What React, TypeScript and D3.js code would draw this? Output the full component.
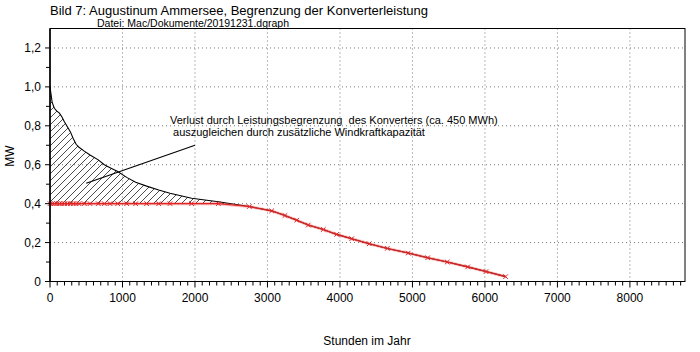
import React from "react";
import * as d3 from "d3";

const hours = [0, 30, 60, 95, 130, 165, 200, 240, 280, 320, 360, 400, 473, 552, 666, 749, 828, 934, 1058, 1182, 1333, 1500, 1655, 1954, 2322, 2749, 3058, 3241, 3403, 3563, 3770, 3955, 4162, 4404, 4653, 4942, 5210, 5480, 5761, 6014, 6286];
const demandMW = [1.0, 0.92, 0.89, 0.875, 0.865, 0.845, 0.82, 0.795, 0.77, 0.735, 0.705, 0.69, 0.67, 0.65, 0.625, 0.6, 0.585, 0.565, 0.535, 0.51, 0.49, 0.47, 0.453, 0.428, 0.41, 0.385, 0.363, 0.339, 0.315, 0.29, 0.267, 0.242, 0.22, 0.194, 0.17, 0.146, 0.122, 0.1, 0.075, 0.051, 0.025];
const limitedMW = [0.4, 0.4, 0.4, 0.4, 0.4, 0.4, 0.4, 0.4, 0.4, 0.4, 0.4, 0.4, 0.4, 0.4, 0.4, 0.4, 0.4, 0.4, 0.4, 0.4, 0.4, 0.4, 0.4, 0.4, 0.4, 0.385, 0.363, 0.339, 0.315, 0.29, 0.267, 0.242, 0.22, 0.194, 0.17, 0.146, 0.122, 0.1, 0.075, 0.051, 0.025];

const xMajorTicks = [0, 1000, 2000, 3000, 4000, 5000, 6000, 7000, 8000];
const yMajorTicks = [0, 0.2, 0.4, 0.6, 0.8, 1.0, 1.2];

const title = "Bild 7: Augustinum Ammersee, Begrenzung der Konverterleistung";
const subtitle = "Datei: Mac/Dokumente/20191231.dgraph";
const annotationLines = [
  "Verlust durch Leistungsbegrenzung  des Konverters (ca. 450 MWh)",
  " auszugleichen durch zusätzliche Windkraftkapazität",
];
const annotationPointer = [
  [500, 0.505],
  [2000, 0.7],
];
const annotationTextAnchor = [1655, 0.81];

const W = 700;
const H = 352;
const M = { left: 50, right: 15, top: 28.5, bottom: 70.5 };

export default function App() {
  const x = d3.scaleLinear().domain([0, 8760]).range([M.left, W - M.right]);
  const y = d3.scaleLinear().domain([0, 1.3]).range([H - M.bottom, M.top]);

  const pts = hours.map((h, i) => ({ h, d: demandMW[i], l: limitedMW[i] }));
  const lineD = d3.line<any>().x((p) => x(p.h)).y((p) => y(p.d))(pts) || "";
  const lineL = d3.line<any>().x((p) => x(p.h)).y((p) => y(p.l))(pts) || "";
  const areaD =
    d3
      .area<any>()
      .x((p) => x(p.h))
      .y0((p) => y(p.l))
      .y1((p) => y(p.d))(pts) || "";

  const xMinor = d3.range(0, 8701, 100);
  const yMinor = d3.range(0, 13).map((k) => k / 10);
  const font = "Liberation Sans, Arial, Helvetica, sans-serif";
  const x0 = M.left;
  const x1 = W - M.right;
  const yB = H - M.bottom;
  const yT = M.top;

  return (
    <svg
      width={W}
      height={H}
      style={{ position: "absolute", left: 0, top: 0, background: "#fff" }}
      fontFamily={font}
    >
      <defs>
        <pattern id="hatch" patternUnits="userSpaceOnUse" width={7} height={7}>
          <path d="M0,7 L7,0 M-1,1 L1,-1 M6,8 L8,6" stroke="#000" strokeWidth={0.7} />
        </pattern>
      </defs>
      <rect x={0} y={0} width={W} height={H} fill="#fff" />
      <text x={50} y={15} fontSize={13} fill="#000">{title}</text>
      <text x={97} y={26.5} fontSize={10.5} fill="#000">{subtitle}</text>

      {/* grid */}
      {xMajorTicks.filter((t) => t > 0).map((t) => (
        <line key={"gx" + t} x1={x(t)} x2={x(t)} y1={yT} y2={yB} stroke="#777" strokeWidth={1} strokeDasharray="1,3" />
      ))}
      {yMajorTicks.filter((t) => t > 0).map((t) => (
        <line key={"gy" + t} x1={x0} x2={x1} y1={y(t)} y2={y(t)} stroke="#777" strokeWidth={1} strokeDasharray="1,3" />
      ))}

      {/* hatched area */}
      <path d={areaD} fill="url(#hatch)" stroke="none" />
      <path d={lineD} fill="none" stroke="#000" strokeWidth={1.1} />
      <path d={lineL} fill="none" stroke="rgba(240,60,60,0.35)" strokeWidth={3} />
      <path d={lineL} fill="none" stroke="#e02424" strokeWidth={1.1} />
      {pts.map((p, i) => {
        const cx = x(p.h);
        const cy = y(p.l);
        const s = 2.3;
        return (
          <path
            key={"m" + i}
            d={`M${cx - s},${cy - s}L${cx + s},${cy + s}M${cx - s},${cy + s}L${cx + s},${cy - s}`}
            stroke="#e02424"
            strokeWidth={1}
          />
        );
      })}

      {/* frame */}
      <rect x={x0} y={yT} width={x1 - x0} height={yB - yT} fill="none" stroke="#000" strokeWidth={1} />
      <line x1={x0} x2={x0} y1={yT} y2={yB + 0.5} stroke="#000" strokeWidth={1.5} />

      {/* x ticks */}
      {xMinor.map((t) => (
        <line key={"xt" + t} x1={x(t)} x2={x(t)} y1={yB} y2={yB + (t % 1000 === 0 ? 6 : 4)} stroke="#000" strokeWidth={1} />
      ))}
      {xMajorTicks.map((t) => (
        <text key={"xl" + t} x={x(t)} y={302} fontSize={12} textAnchor="middle" fill="#000">{t}</text>
      ))}
      {/* y ticks */}
      {yMinor.map((t, i) => (
        <line key={"yt" + i} x1={x0 - (i % 2 === 0 ? 5 : 4)} x2={x0} y1={y(t)} y2={y(t)} stroke="#000" strokeWidth={1} />
      ))}
      {yMajorTicks.map((t) => (
        <text key={"yl" + t} x={41} y={y(t) + 4.5} fontSize={12} textAnchor="end" fill="#000">
          {t === 0 ? "0" : t.toFixed(1).replace(".", ",")}
        </text>
      ))}

      <text x={367} y={345} fontSize={12} textAnchor="middle" fill="#000">Stunden im Jahr</text>
      <text transform={`translate(14,156) rotate(-90)`} fontSize={12} textAnchor="middle" fill="#000">MW</text>

      {/* annotation */}
      <line
        x1={x(annotationPointer[0][0])}
        y1={y(annotationPointer[0][1])}
        x2={x(annotationPointer[1][0])}
        y2={y(annotationPointer[1][1])}
        stroke="#000"
        strokeWidth={1.1}
      />
      {annotationLines.map((s, i) => (
        <text
          key={"an" + i}
          x={x(annotationTextAnchor[0])}
          y={y(annotationTextAnchor[1]) + i * 12}
          fontSize={11}
          fill="#000"
          style={{ whiteSpace: "pre" }}
        >
          {s}
        </text>
      ))}
    </svg>
  );
}
